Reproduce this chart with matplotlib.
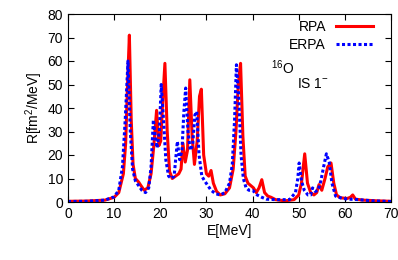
import matplotlib
matplotlib.use('Agg')
import matplotlib.pyplot as plt
import numpy as np

plt.rcParams['font.family'] = ['Liberation Sans', 'DejaVu Sans']
plt.rcParams['mathtext.fontset'] = 'custom'
plt.rcParams['mathtext.rm'] = 'Liberation Sans'

# RPA strength
e_rpa = [0, 4, 8, 10, 11, 12, 12.5, 12.9, 13.3, 13.7, 14.1, 14.6, 15.3, 15.8, 16.5, 17.3,
         18.0, 18.6, 19.2, 19.7, 20.1, 20.5, 21.0, 21.5, 22.0, 22.6, 23.3, 24.0, 24.5, 24.9,
         25.4, 25.9, 26.4, 26.9, 27.4, 28.0, 28.5, 28.9, 29.4, 30.0, 30.5, 31.0, 31.5, 32.2,
         33.0, 34.0, 35.0, 35.8, 36.4, 36.9, 37.4, 37.9, 38.4, 39.0, 39.6, 40.2, 40.8, 41.4,
         42.0, 42.6, 43.3, 44.0, 45.0, 47.0, 49.0, 50.0, 50.6, 51.3, 51.9, 52.6, 53.3, 53.9,
         54.4, 55.0, 55.7, 56.3, 57.0, 57.6, 58.2, 59.0, 60.5, 61.2, 61.7, 62.3, 64.0, 67.0, 70.0]
r_rpa = [0.3, 0.4, 0.8, 2, 4, 12, 25, 50, 71, 35, 16, 10, 8.5, 7, 5, 6,
         12, 24, 39, 24, 26, 42, 59, 30, 13, 10, 11, 12, 14, 25,
         17, 22, 52, 28, 16, 26, 45, 48, 20, 12, 11, 13.4, 8, 4.5,
         3, 3.5, 6, 14, 30, 50, 59, 28, 11, 8, 7, 6, 4, 6,
         9.5, 4, 2.5, 2, 1, 0.5, 1, 3, 8, 20.5, 8, 4, 3, 4,
         7.4, 5, 10, 15, 16.6, 8, 3, 1.8, 1.5, 2, 3, 1.2, 0.8, 0.5, 0.3]

# ERPA strength
e_erpa = [0, 4, 8, 10, 11, 11.8, 12.4, 13.0, 13.5, 14.0, 14.6, 15.3, 16.0, 16.8, 17.5,
          18.0, 18.5, 18.9, 19.3, 19.8, 20.2, 20.7, 21.2, 21.8, 22.4, 23.0, 23.7, 24.2, 24.7,
          25.1, 25.5, 26.0, 26.5, 27.0, 27.5, 27.9, 28.4, 29.0, 29.6, 30.3, 31.0, 32.0, 33.0,
          34.0, 35.0, 35.6, 36.1, 36.5, 37.0, 37.5, 38.0, 38.6, 39.2, 40.0, 41.0, 42.0, 43.0,
          45.0, 48.0, 49.3, 49.8, 50.1, 50.6, 51.2, 52.0, 52.6, 53.0, 53.6, 54.2, 54.8, 55.4,
          56.0, 56.6, 57.2, 58.0, 59.5, 61.0, 63.0, 66.0, 70.0]
r_erpa = [0.2, 0.3, 0.8, 2.2, 5, 15, 35, 60, 30, 14, 9, 7, 5, 4, 6,
          15, 35, 28, 23, 30, 50, 35, 18, 11, 10, 11, 25.8, 18, 22,
          38, 48.5, 30, 22, 24, 37, 38.5, 20, 11, 9, 7, 5, 3.5, 3,
          4, 8, 16, 35, 58.4, 45, 20, 10, 6, 5, 5, 3, 2, 1.2,
          1, 1, 4, 10, 16.6, 9, 5, 3, 3, 6, 4.5, 5, 9, 15,
          20.5, 17, 8, 2.5, 1.5, 1.2, 1, 0.5, 0.2]

fig = plt.figure(figsize=(3.98, 2.60), dpi=100)
ax = fig.add_axes([68 / 398, 1 - 202 / 260, (391 - 68) / 398, (202 - 14) / 260])

ax.plot(e_rpa, r_rpa, color='red', lw=2.2, label='RPA')
ax.plot(e_erpa, r_erpa, color='blue', lw=2.2, linestyle=(0, (1, 0.8)), label='ERPA')

ax.set_xlim(0, 70)
ax.set_ylim(0, 80)
ax.set_xticks(np.arange(0, 71, 10))
ax.set_yticks(np.arange(0, 81, 10))
ax.tick_params(direction='in', top=True, right=True, labelsize=10, length=4)
ax.set_xlabel('E[MeV]', fontsize=10, labelpad=2)
ax.set_ylabel('R[fm$^2$/MeV]', fontsize=10, labelpad=2)

leg = ax.legend(loc='upper right', bbox_to_anchor=(0.962, 1.0), frameon=False,
                fontsize=10, markerfirst=False, handlelength=2.7, borderaxespad=0,
                labelspacing=0.3, handletextpad=0.7)

ax.text(46.6, 57, '$^{16}$O', fontsize=10, ha='center', va='center')
ax.text(53, 50, 'IS 1$^{-}$', fontsize=10, ha='center', va='center')

fig.savefig('out.png', dpi=100)
